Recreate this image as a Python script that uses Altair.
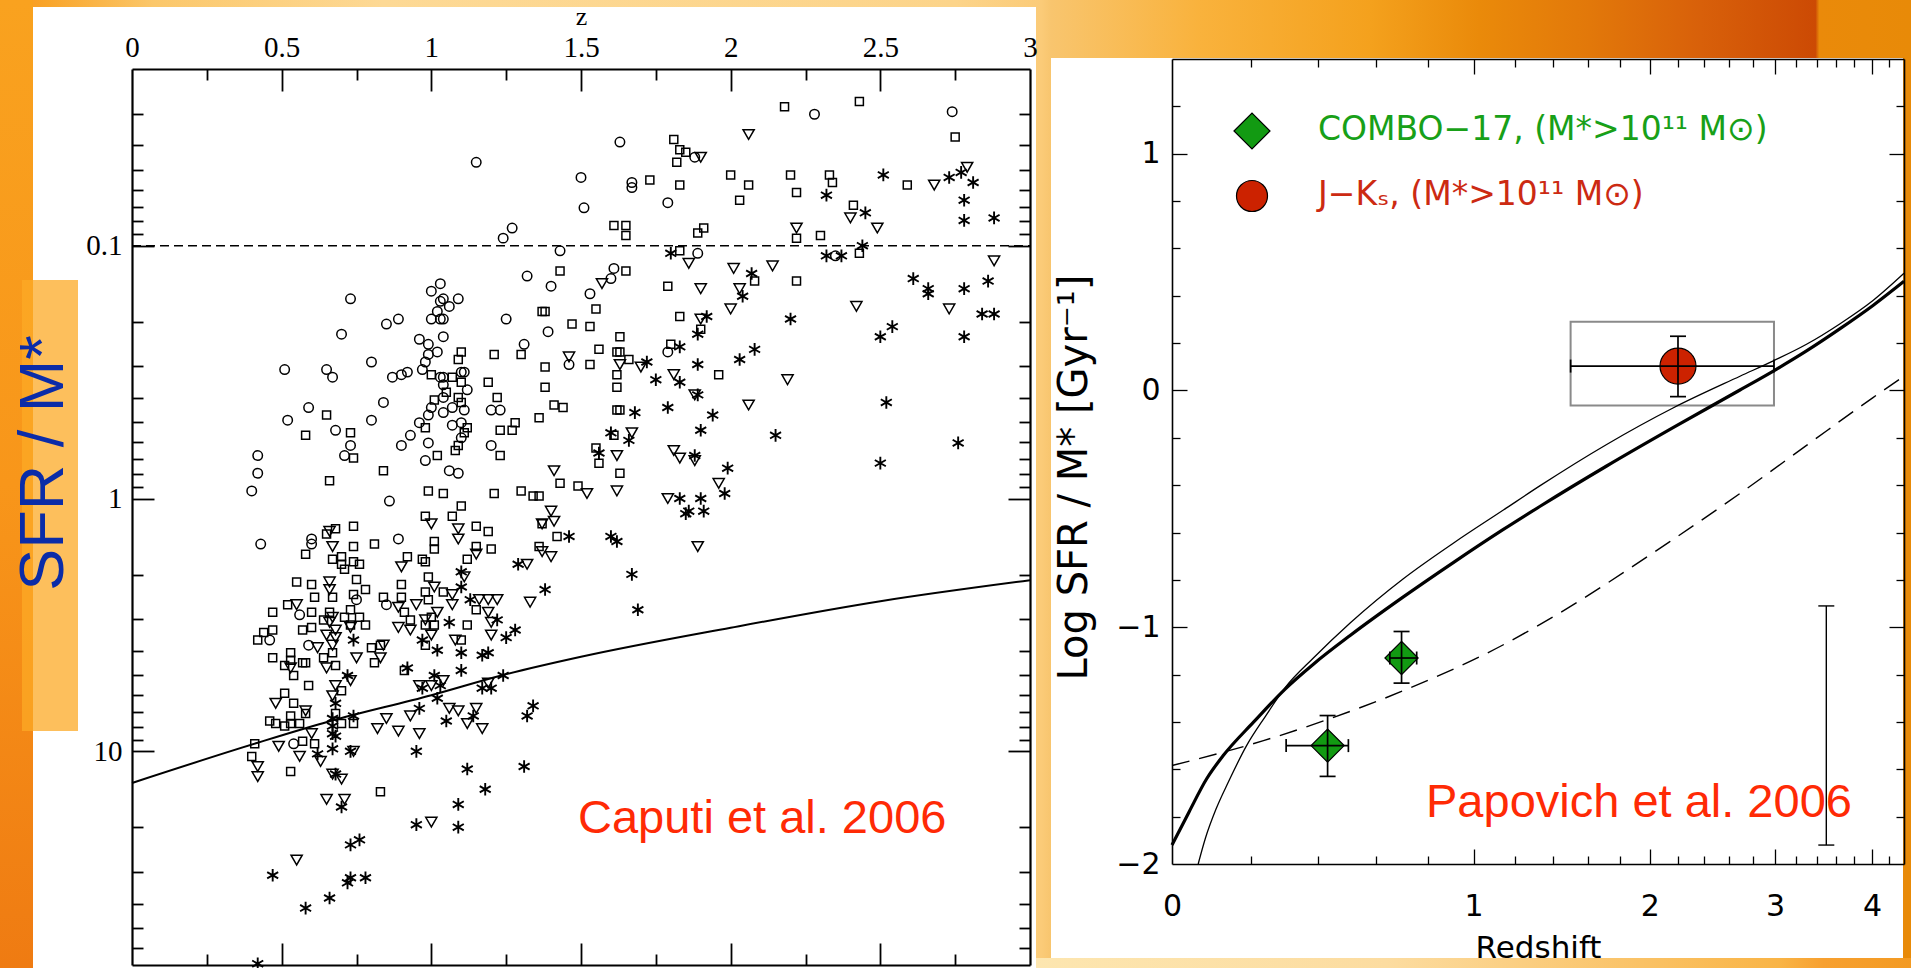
import altair as alt
import pandas as pd

W, H = 1911, 968

# ---------------- Left panel: Caputi et al. 2006 (redshift z, log10 SFR/M*) ----------------
caputi_circles = [
    (1.15, -1.33), (1.50, -1.27), (1.51, -1.15), (1.24, -1.03), (1.27, -1.07), (1.43, -0.98), (1.32, -0.88),
    (1.40, -0.84), (1.53, -0.81), (1.03, -0.85), (1.00, -0.82), (1.04, -0.79), (1.09, -0.79), (1.03, -0.78),
    (1.06, -0.76), (1.02, -0.74), (1.00, -0.71), (1.03, -0.71), (1.04, -0.71), (0.73, -0.79), (0.85, -0.69),
    (0.89, -0.71), (0.70, -0.65), (1.25, -0.71), (1.39, -0.66), (1.31, -0.61), (1.04, -0.64), (0.96, -0.63),
    (0.99, -0.61), (1.02, -0.58), (0.99, -0.57), (0.98, -0.54), (0.80, -0.54), (0.51, -0.51), (0.65, -0.51),
    (0.67, -0.48), (0.87, -0.48), (0.90, -0.49), (0.92, -0.50), (0.97, -0.51), (1.03, -0.48), (1.04, -0.48),
    (1.11, -0.50), (1.10, -0.50), (1.04, -0.45), (1.12, -0.43), (1.46, -0.53), (0.59, -0.36), (0.52, -0.31),
    (0.84, -0.38), (0.80, -0.31), (1.00, -0.36), (0.99, -0.33), (1.04, -0.34), (1.07, -0.36), (1.04, -0.40),
    (1.11, -0.35), (1.20, -0.35), (1.23, -0.35), (0.68, -0.27), (0.73, -0.21), (0.71, -0.17), (0.96, -0.30),
    (0.93, -0.25), (0.90, -0.21), (0.99, -0.22), (0.98, -0.15), (1.07, -0.29), (1.10, -0.30), (1.10, -0.24),
    (1.20, -0.21), (1.06, -0.11), (1.09, -0.10), (0.42, -0.17), (0.42, -0.10), (0.40, -0.03), (0.86, 0.01),
    (2.28, -1.52), (2.74, -1.53), (1.63, -1.41), (1.88, -1.35), (1.67, -1.25), (1.67, -1.23), (1.79, -1.17),
    (1.89, -0.97), (1.61, -0.91), (1.60, -0.87), (1.79, -0.58), (2.35, -0.96),
    (0.43, 0.18), (0.60, 0.16), (0.60, 0.18), (0.89, 0.16), (0.75, 0.40), (0.56, 0.46), (0.85, 0.42),
    (0.46, 0.56), (0.59, 0.58), (0.54, 0.97),
]
caputi_squares = [
    (1.43, -0.90), (1.37, -0.74), (1.38, -0.74), (1.47, -0.69), (1.53, -0.68), (1.10, -0.58), (1.09, -0.55),
    (1.21, -0.57), (1.30, -0.57), (1.38, -0.52), (1.53, -0.53), (1.00, -0.49), (1.07, -0.48), (1.10, -0.46),
    (1.19, -0.46), (1.38, -0.44), (1.05, -0.42), (1.01, -0.39), (1.09, -0.40), (1.10, -0.38), (1.22, -0.40),
    (1.41, -0.37), (1.44, -0.36), (1.36, -0.32), (0.65, -0.33), (0.58, -0.25), (0.73, -0.26), (0.74, -0.16),
    (0.66, -0.07), (0.84, -0.11), (0.98, -0.28), (1.12, -0.28), (1.11, -0.26), (1.28, -0.30), (1.23, -0.27),
    (1.27, -0.27), (1.09, -0.21), (1.08, -0.19), (1.02, -0.17), (1.23, -0.17), (0.99, -0.03), (1.04, -0.02),
    (1.10, 0.03), (1.21, -0.02), (1.30, -0.03), (1.34, -0.01), (1.36, -0.01), (1.43, -0.06), (1.49, -0.05),
    (0.98, 0.07), (1.07, 0.07),
    (2.18, -1.55), (2.43, -1.57), (2.75, -1.43), (1.81, -1.42), (1.83, -1.38), (1.85, -1.37), (1.82, -1.33),
    (1.73, -1.26), (1.83, -1.24), (2.00, -1.28), (2.06, -1.24), (2.03, -1.18), (2.20, -1.28), (2.33, -1.28),
    (2.34, -1.25), (2.22, -1.21), (2.41, -1.16), (2.59, -1.24), (1.61, -1.08), (1.65, -1.08), (1.65, -1.04),
    (1.91, -1.07), (1.89, -1.05), (2.22, -1.03), (2.30, -1.04), (1.83, -0.98), (2.43, -0.97), (1.65, -0.90),
    (1.79, -0.84), (2.08, -0.86), (2.22, -0.86), (1.55, -0.75), (1.83, -0.72), (1.63, -0.64), (1.90, -0.67),
    (1.56, -0.59), (1.62, -0.58), (1.63, -0.58), (1.66, -0.55), (1.80, -0.61), (1.62, -0.49), (1.62, -0.44),
    (1.96, -0.49), (1.62, -0.35), (1.63, -0.35), (1.61, -0.25), (1.55, -0.20), (1.56, -0.14), (1.63, -0.10),
    (0.74, 0.11), (0.68, 0.12), (0.65, 0.14), (0.74, 0.19), (0.81, 0.18), (0.58, 0.22), (1.01, 0.17),
    (1.01, 0.20), (1.15, 0.11), (1.19, 0.13), (1.20, 0.20), (1.15, 0.19), (1.12, 0.24), (1.36, 0.19),
    (1.42, 0.15), (1.37, 0.10), (0.67, 0.24), (0.70, 0.23), (0.70, 0.26), (0.71, 0.28), (0.74, 0.25),
    (0.76, 0.26), (0.92, 0.23), (0.97, 0.24), (0.98, 0.25), (0.55, 0.33), (0.60, 0.34), (0.75, 0.32),
    (0.78, 0.36), (0.90, 0.34), (0.99, 0.31), (0.61, 0.39), (0.67, 0.39), (0.74, 0.38), (0.84, 0.39),
    (0.90, 0.39), (0.99, 0.40), (0.98, 0.37), (1.04, 0.37), (0.47, 0.45), (0.52, 0.42), (0.60, 0.45),
    (0.66, 0.45), (0.73, 0.44), (0.76, 0.47), (0.71, 0.47), (0.64, 0.48), (0.91, 0.45), (0.93, 0.48),
    (1.00, 0.47), (1.15, 0.44), (0.44, 0.53), (0.47, 0.52), (0.42, 0.56), (0.57, 0.52), (0.60, 0.51),
    (0.73, 0.50), (0.78, 0.50), (0.98, 0.50), (1.01, 0.50), (1.12, 0.50), (0.47, 0.63), (0.53, 0.61),
    (0.53, 0.64), (0.51, 0.66), (0.54, 0.70), (0.57, 0.65), (0.58, 0.65), (0.64, 0.63), (0.67, 0.61),
    (0.68, 0.66), (0.80, 0.59), (0.83, 0.58), (0.81, 0.65), (0.98, 0.58), (1.10, 0.56), (0.91, 0.68),
    (0.59, 0.74), (0.70, 0.76), (0.51, 0.77), (0.54, 0.81), (0.46, 0.88), (0.48, 0.89), (0.51, 0.90),
    (0.53, 0.89), (0.53, 0.86), (0.56, 0.89), (0.58, 0.85), (0.68, 0.85), (0.70, 0.89), (0.74, 0.89),
    (0.41, 0.97), (0.57, 0.96), (0.61, 0.97), (0.40, 1.02), (0.53, 1.08), (0.83, 1.16),
]
caputi_triangles = [
    (1.46, -0.56), (1.41, -0.11), (1.52, -0.02), (1.40, 0.05),
    (2.06, -1.44), (1.90, -1.35), (2.79, -1.31), (2.68, -1.24), (2.40, -1.11), (2.49, -1.07), (2.22, -1.07),
    (1.86, -0.93), (2.01, -0.91), (2.14, -0.92), (2.03, -0.83), (1.90, -0.83), (2.00, -0.75), (1.57, -0.85),
    (2.42, -0.76), (2.73, -0.75), (2.88, -0.94), (1.90, -0.71), (1.63, -0.53), (1.70, -0.52), (1.81, -0.49),
    (2.19, -0.47), (1.88, -0.41), (2.06, -0.37), (1.67, -0.26), (1.62, -0.17), (1.81, -0.19), (1.83, -0.16),
    (1.88, -0.15), (1.62, -0.03), (1.79, 0.00), (1.96, -0.06), (1.89, 0.19),
    (0.66, 0.13), (0.67, 0.19), (1.00, 0.10), (1.09, 0.12), (1.09, 0.16), (1.37, 0.10), (1.41, 0.09),
    (1.15, 0.22), (1.37, 0.21), (1.40, 0.23), (1.32, 0.26), (0.90, 0.27), (1.11, 0.31), (0.66, 0.33),
    (0.66, 0.36), (1.01, 0.35), (1.07, 0.38), (1.07, 0.42), (0.95, 0.42), (0.89, 0.43), (1.02, 0.45),
    (0.55, 0.42), (1.16, 0.40), (1.19, 0.40), (1.22, 0.40), (1.19, 0.45), (1.20, 0.49), (1.20, 0.54),
    (1.33, 0.41), (0.67, 0.47), (0.66, 0.49), (0.68, 0.52), (0.65, 0.54), (0.68, 0.55), (0.67, 0.58),
    (0.73, 0.51), (0.89, 0.51), (0.93, 0.52), (0.98, 0.48), (1.00, 0.54), (0.84, 0.58), (1.08, 0.56),
    (0.62, 0.59), (0.75, 0.63), (0.83, 0.63), (0.65, 0.67), (0.53, 0.67), (0.73, 0.72), (0.68, 0.74),
    (0.67, 0.78), (0.48, 0.81), (0.58, 0.84), (0.96, 0.74), (1.00, 0.74), (1.04, 0.72), (1.19, 0.73),
    (1.06, 0.83), (1.09, 0.84), (1.15, 0.83), (0.93, 0.86), (0.85, 0.87), (0.82, 0.91), (0.89, 0.92),
    (0.96, 0.93), (1.12, 0.89), (1.17, 0.91), (0.60, 0.93), (0.49, 0.98), (0.56, 1.02), (0.63, 1.04),
    (0.42, 1.06), (0.42, 1.10), (0.67, 1.09), (0.70, 1.11), (0.65, 1.19), (0.71, 1.19), (1.00, 1.28),
    (0.55, 1.43), (0.74, 1.00),
]
caputi_asterisks = [
    (2.51, -1.28), (2.73, -1.27), (2.77, -1.29), (2.81, -1.25), (2.32, -1.20), (2.78, -1.18), (2.45, -1.13),
    (2.78, -1.10), (2.88, -1.11), (1.80, -0.97), (2.32, -0.96), (2.37, -0.96), (2.44, -1.00), (2.07, -0.89),
    (2.04, -0.80), (2.61, -0.87), (2.66, -0.83), (2.66, -0.81), (2.78, -0.83), (2.86, -0.86), (2.84, -0.73),
    (2.88, -0.73), (1.92, -0.72), (1.89, -0.65), (2.20, -0.71), (2.50, -0.64), (2.54, -0.68), (2.78, -0.64),
    (1.83, -0.60), (1.72, -0.54), (1.75, -0.47), (1.83, -0.46), (1.89, -0.53), (1.89, -0.41), (2.03, -0.55),
    (2.08, -0.59), (1.68, -0.34), (1.79, -0.36), (1.94, -0.33), (1.90, -0.27), (1.60, -0.26), (1.66, -0.23),
    (1.56, -0.18), (2.15, -0.25), (2.52, -0.38), (2.76, -0.22), (2.50, -0.14), (1.88, -0.17), (1.99, -0.12),
    (1.98, -0.02), (1.83, 0.00), (1.90, 0.00), (1.86, 0.05), (1.91, 0.05), (1.85, 0.06),
    (1.60, 0.15), (1.62, 0.17), (1.67, 0.30), (1.69, 0.44),
    (1.46, 0.15), (1.29, 0.26), (1.38, 0.36), (1.10, 0.29), (1.10, 0.35), (1.13, 0.40), (1.06, 0.49),
    (1.22, 0.48), (1.25, 0.55), (1.28, 0.52), (0.97, 0.56), (0.74, 0.56), (1.02, 0.60), (1.10, 0.61),
    (1.17, 0.62), (1.19, 0.61), (0.92, 0.67), (1.10, 0.68), (0.72, 0.70), (1.01, 0.70), (1.03, 0.74),
    (1.17, 0.75), (1.20, 0.75), (1.24, 0.70), (0.97, 0.75), (1.02, 0.79), (0.68, 0.81), (0.74, 0.86),
    (0.96, 0.83), (1.14, 0.86), (1.05, 0.88), (1.34, 0.82), (1.32, 0.86), (0.67, 0.87), (0.67, 0.90),
    (0.67, 0.93), (0.68, 0.94), (0.67, 0.99), (0.73, 1.00), (0.62, 1.01), (0.95, 1.00), (0.68, 1.09),
    (0.70, 1.22), (1.12, 1.07), (1.31, 1.06), (1.18, 1.15), (1.09, 1.21), (0.95, 1.29), (1.09, 1.30),
    (0.73, 1.37), (0.76, 1.35), (0.47, 1.49), (0.73, 1.50), (0.72, 1.52), (0.78, 1.50), (0.66, 1.58),
    (0.58, 1.62), (0.42, 1.84),
]
caputi_curve_z = [0.0, 0.42, 0.66, 1.0, 1.24, 1.5, 2.0, 2.5, 3.0]
caputi_curve_logy = [1.125, 0.966, 0.881, 0.778, 0.698, 0.626, 0.511, 0.406, 0.323]
caputi_cut_z = [0.0, 3.0]
caputi_cut_level = [0.1, 0.1]
caputi_x_labels = [0, 0.5, 1, 1.5, 2, 2.5, 3]
caputi_y_labels = [0.1, 1, 10]

# ---------------- Right panel: Papovich et al. 2006 (redshift, log SFR/M* [Gyr^-1]) ----------------
combo_z = [0.43, 0.695]
combo_z_lo = [0.30, 0.65]
combo_z_hi = [0.50, 0.755]
combo_y = [-1.50, -1.13]
combo_y_lo = [-1.63, -1.236]
combo_y_hi = [-1.373, -1.018]

jk_z = [2.20]
jk_z_lo = [1.50]
jk_z_hi = [2.99]
jk_y = [0.103]
jk_y_lo = [-0.026]
jk_y_hi = [0.229]
jk_box_z = [1.50, 2.99]
jk_box_y = [-0.064, 0.290]

typical_err_z = [3.5]
typical_err_lo = [-1.92]
typical_err_hi = [-0.91]

thick_z = [0.0, 0.04, 0.083, 0.125, 0.206, 0.297, 0.384, 0.506, 0.702, 0.909, 1.142, 1.331, 1.716, 2.167,
           2.69, 2.984, 3.30, 3.645, 4.01, 4.38]
thick_y = [-1.92, -1.78, -1.64, -1.542, -1.401, -1.261, -1.156, -1.035, -0.872, -0.727, -0.587, -0.489,
           -0.319, -0.156, 0.002, 0.082, 0.167, 0.261, 0.359, 0.461]
thin_z = [0.062, 0.08, 0.106, 0.138, 0.187, 0.24, 0.297, 0.384, 0.506, 0.702, 0.909, 1.142, 1.331, 1.716,
          2.167, 2.69, 2.984, 3.30, 3.645, 4.01, 4.38]
thin_y = [-2.0, -1.89, -1.77, -1.655, -1.50, -1.375, -1.255, -1.130, -0.982, -0.795, -0.645, -0.505, -0.402,
          -0.228, -0.073, 0.060, 0.125, 0.195, 0.282, 0.380, 0.495]
dash_z = [0.0, 0.234, 0.427, 0.702, 1.142, 1.331, 2.167, 2.69, 3.30, 4.01, 4.38]
dash_y = [-1.584, -1.479, -1.391, -1.268, -1.074, -0.988, -0.628, -0.435, -0.232, -0.030, 0.060]

papovich_x_labels = [0, 1, 2, 3, 4]
papovich_y_labels = [-2, -1, 0, 1]

# ---------------- tables ----------------
one = pd.DataFrame({"k": [0]})


def pts_df(pts):
    return pd.DataFrame({"z": [p[0] for p in pts], "logy": [p[1] for p in pts]})


curve_df = pd.DataFrame({"z": caputi_curve_z, "logy": caputi_curve_logy})
cut_df = pd.DataFrame({"z": caputi_cut_z, "v": caputi_cut_level})

err_df = pd.DataFrame({
    "zp1": [1 + z for z in combo_z + jk_z],
    "zlo1": [1 + z for z in combo_z_lo + jk_z_lo],
    "zhi1": [1 + z for z in combo_z_hi + jk_z_hi],
    "y": combo_y + jk_y,
    "ylo": combo_y_lo + jk_y_lo,
    "yhi": combo_y_hi + jk_y_hi,
})
combo_df = err_df.iloc[:2]
jk_df = err_df.iloc[2:]
box_df = pd.DataFrame({"zlo1": [1 + jk_box_z[0]], "zhi1": [1 + jk_box_z[1]], "ylo": [jk_box_y[0]], "yhi": [jk_box_y[1]]})
typ_df = pd.DataFrame({"zp1": [1 + z for z in typical_err_z], "ylo": typical_err_lo, "yhi": typical_err_hi})
thick_df = pd.DataFrame({"zp1": [1 + z for z in thick_z], "y": thick_y})
thin_df = pd.DataFrame({"zp1": [1 + z for z in thin_z], "y": thin_y})
dash_df = pd.DataFrame({"zp1": [1 + z for z in dash_z], "y": dash_y})

# ---------------- scales ----------------
L_X = alt.Scale(domain=[0, 3], range=[132, 1030], nice=False, zero=False)
L_Y = alt.Scale(type="log", domain=[0.02, 70], range=[69, 965], nice=False)
R_X = alt.Scale(type="log", domain=[1, 5.38], range=[1172, 1904], nice=False)
R_Y = alt.Scale(domain=[-2, 1.4], range=[864, 59], nice=False, zero=False)

SERIF = "Liberation Serif"
SANS = "DejaVu Sans"


def tick_axis(orient, offset, values, test, major, minor, tw, dw):
    return alt.Axis(orient=orient, offset=offset, values=values, labels=False, title=None, grid=False,
                    domain=True, domainColor="black", domainWidth=dw, ticks=True, tickColor="black",
                    tickWidth=tw, tickSize={"condition": {"test": test, "value": major}, "value": minor},
                    zindex=3)


LX_TEST = "abs(datum.value*2 - round(datum.value*2)) < 0.001"
LY_TEST = "abs(log(datum.value)/LN10 - round(log(datum.value)/LN10)) < 0.001"
INT_TEST = "abs(datum.value - round(datum.value)) < 0.001"

lx_ticks = [round(0.25 * i, 2) for i in range(1, 12)]
ly_ticks = [round(m * 10 ** e, 3) for e in (-2, -1, 0, 1) for m in range(1, 10) if 0.02 < m * 10 ** e < 70]
rx_ticks = [round(1 + 0.2 * i, 2) for i in range(1, 22)]
ry_ticks = [round(-2 + 0.2 * i, 2) for i in range(1, 17)]

ax_l_top_labels = alt.Axis(orient="top", offset=-69, values=caputi_x_labels, format="~g", ticks=False, domain=False,
                           grid=False, labelFont=SERIF, labelFontSize=29, labelColor="black", labelPadding=7,
                           labelFlush=False, labelOverlap=False, title="z", titleFont=SERIF, titleFontSize=26,
                           titleFontWeight="normal", titleColor="black", titleX=581, titleY=-53,
                           titleBaseline="middle", titleAlign="center", zindex=3)
ax_l_top_ticks = tick_axis("bottom", 69 - H, lx_ticks, LX_TEST, 22, 11, 1.8, 2.2)
ax_l_bottom_ticks = tick_axis("top", -965, lx_ticks, LX_TEST, 22, 11, 1.8, 2.2)
ax_l_left_labels = alt.Axis(orient="left", offset=-132, values=caputi_y_labels, format="~g", ticks=False,
                            domain=False, grid=False, labelFont=SERIF, labelFontSize=29, labelColor="black",
                            labelPadding=10, labelFlush=False, labelOverlap=False, title=None, zindex=3)
ax_l_left_ticks = tick_axis("right", 132 - W, ly_ticks, LY_TEST, 22, 11, 1.8, 2.2)
ax_l_right_ticks = tick_axis("left", -1030, ly_ticks, LY_TEST, 22, 11, 1.8, 2.2)

ax_r_bottom_labels = alt.Axis(orient="bottom", offset=864 - H, values=[1 + z for z in papovich_x_labels],
                              labelExpr="format(datum.value - 1, 'd')", ticks=False, domain=False, grid=False,
                              labelFont=SANS, labelFontSize=30, labelColor="black", labelPadding=27,
                              labelFlush=False, labelOverlap=False, title="Redshift", titleFont=SANS,
                              titleFontSize=31, titleFontWeight="normal", titleColor="black", titleX=1538,
                              titleY=84, titleBaseline="middle", titleAlign="center", zindex=3)
ax_r_bottom_ticks = tick_axis("top", -864, rx_ticks, INT_TEST, 15, 8, 1.3, 1.6)
ax_r_top_ticks = tick_axis("bottom", 59 - H, rx_ticks, INT_TEST, 15, 8, 1.3, 1.6)
ax_r_left_labels = alt.Axis(orient="left", offset=-1172, values=papovich_y_labels, format="d", ticks=False,
                            domain=False, grid=False, labelFont=SANS, labelFontSize=30, labelColor="black",
                            labelPadding=12, labelFlush=False, labelOverlap=False,
                            title="Log SFR / M* [Gyr⁻¹]", titleFont=SANS, titleFontSize=40,
                            titleFontWeight="normal", titleColor="black", titleX=-98, titleY=477,
                            titleAngle=270, titleBaseline="middle", titleAlign="center", zindex=3)
ax_r_left_ticks = tick_axis("right", 1172 - W, ry_ticks, INT_TEST, 15, 8, 1.3, 1.6)
ax_r_right_ticks = tick_axis("left", -1904, ry_ticks, INT_TEST, 15, 8, 1.3, 1.6)


def LXe(f, axis=None):
    return alt.X(f"{f}:Q", scale=L_X, axis=axis)


def LYe(f, axis=None):
    return alt.Y(f"{f}:Q", scale=L_Y, axis=axis)


def RXe(f, axis=None):
    return alt.X(f"{f}:Q", scale=R_X, axis=axis)


def RYe(f, axis=None):
    return alt.Y(f"{f}:Q", scale=R_Y, axis=axis)


def deco_rect(x0, x1, y0, y1, **mk):
    return alt.Chart(one).mark_rect(**mk).encode(x=alt.value(x0), x2=alt.value(x1), y=alt.value(y0), y2=alt.value(y1))


def note(text, x, y, **mk):
    return alt.Chart(one).mark_text(text=text, **mk).encode(x=alt.value(x), y=alt.value(y))


def grad(stops, vertical=False):
    return alt.LinearGradient(gradient="linear",
                              stops=[alt.GradientStop(color=c, offset=o) for o, c in stops],
                              x1=0, x2=0 if vertical else 1, y1=0, y2=1 if vertical else 0)


layers = []

# ---- slide background ----
bg_stops = [
    (0.0, "#f7941d"), (0.025, "#f9a52a"), (0.08, "#fbc76a"), (0.2, "#fdd995"), (0.5, "#fcd48a"),
    (0.545, "#fbcb78"), (0.55, "#f8c56e"), (0.628, "#f9b23c"), (0.717, "#f4a11d"), (0.774, "#ea8a0a"),
    (0.832, "#e2780a"), (0.89, "#d8600a"), (0.950, "#cc4a04"), (0.952, "#ea8a0a"), (1.0, "#e88a08")]
layers.append(deco_rect(0, W, 0, H, color=grad(bg_stops)))
bottom_stops = [(0.0, "#fde6b0"), (0.4, "#fcdca0"), (0.85, "#f9b446"), (0.9, "#f7a030"), (1.0, "#f39a22")]
layers.append(deco_rect(1036, W, 958, H, color=grad(bottom_stops)))
left_stops = [(0.0, "#f9a21f"), (0.5, "#f8961a"), (1.0, "#ef7b12")]
layers.append(deco_rect(0, 33, 0, H, color=grad(left_stops, vertical=True)))
# ---- white panels ----
layers.append(deco_rect(33, 1036, 7, H, color="white"))
layers.append(deco_rect(1051, 1903, 58, 958, color="white"))
# ---- side label ----
layers.append(deco_rect(22, 78, 280, 731, color="#fcaa26", opacity=0.75))
layers.append(note("SFR / M*", 63, 463, angle=270, align="center", baseline="alphabetic",
                   font="Liberation Sans", fontSize=63, color="#0b2ca8"))

# ---- left panel: Caputi et al. 2006 ----
layers.append(alt.Chart(cut_df).mark_line(color="black", strokeWidth=1.6, strokeDash=[9, 5]).encode(
    x=LXe("z", ax_l_bottom_ticks), y=LYe("v", ax_l_right_ticks)))
layers.append(alt.Chart(curve_df).transform_calculate(v="pow(10, datum.logy)").mark_line(
    color="black", strokeWidth=2, interpolate="monotone").encode(
    x=LXe("z", ax_l_top_ticks), y=LYe("v", ax_l_left_ticks)))
ASTERISK = "M0,-1L0,1M-0.87,-0.5L0.87,0.5M-0.87,0.5L0.87,-0.5"
symbol_sets = [
    (caputi_squares, "square", 64, 1.5),
    (caputi_triangles, "triangle-down", 125, 1.5),
    (caputi_asterisks, ASTERISK, 160, 1.9),
]
layers.append(alt.Chart(pts_df(caputi_circles)).transform_calculate(v="pow(10, datum.logy)").mark_point(
    shape="circle", size=90, filled=False, color="black", strokeWidth=1.5, opacity=1).encode(
    x=LXe("z", ax_l_top_labels), y=LYe("v", ax_l_left_labels)))
for pts, shape, size, sw in symbol_sets:
    layers.append(alt.Chart(pts_df(pts)).transform_calculate(v="pow(10, datum.logy)").mark_point(
        shape=shape, size=size, filled=False, color="black", strokeWidth=sw, opacity=1).encode(
        x=LXe("z"), y=LYe("v")))
layers.append(note("Caputi et al. 2006", 578, 833, align="left", baseline="alphabetic",
                   font="Liberation Sans", fontSize=47, color="#ff2a05"))

# ---- right panel: Papovich et al. 2006 ----
layers.append(alt.Chart(box_df).mark_rect(fillOpacity=0, stroke="#8a8a8a", strokeWidth=2).encode(
    x=RXe("zlo1"), x2=alt.X2("zhi1"), y=RYe("ylo"), y2=alt.Y2("yhi")))
layers.append(alt.Chart(dash_df).mark_line(color="black", strokeWidth=1.4, strokeDash=[18, 10],
                                           interpolate="monotone").encode(
    x=RXe("zp1", ax_r_top_ticks), y=RYe("y", ax_r_right_ticks)))
layers.append(alt.Chart(thin_df).mark_line(color="black", strokeWidth=1.3, interpolate="monotone").encode(
    x=RXe("zp1", ax_r_bottom_ticks), y=RYe("y", ax_r_left_ticks)))
layers.append(alt.Chart(thick_df).mark_line(color="black", strokeWidth=3.2, interpolate="monotone").encode(
    x=RXe("zp1", ax_r_bottom_labels), y=RYe("y", ax_r_left_labels)))
# symbols
layers.append(alt.Chart(combo_df).mark_point(shape="diamond", size=1100, filled=True, fill="#129a12",
                                             stroke="black", strokeWidth=1.2, opacity=1).encode(
    x=RXe("zp1"), y=RYe("y")))
layers.append(alt.Chart(jk_df).mark_point(shape="circle", size=1296, filled=True, fill="#cc2200",
                                          stroke="black", strokeWidth=1.2, opacity=1).encode(
    x=RXe("zp1"), y=RYe("y")))
# error bars with caps (drawn over the symbols)
layers.append(alt.Chart(err_df).mark_rule(color="black", strokeWidth=1.7).encode(
    x=RXe("zlo1"), x2=alt.X2("zhi1"), y=RYe("y")))
layers.append(alt.Chart(err_df).mark_rule(color="black", strokeWidth=1.7).encode(
    x=RXe("zp1"), y=RYe("ylo"), y2=alt.Y2("yhi")))
for f in ["zlo1", "zhi1"]:
    layers.append(alt.Chart(err_df).mark_tick(orient="vertical", size=13, thickness=1.7, color="black",
                                              opacity=1).encode(x=RXe(f), y=RYe("y")))
for f in ["ylo", "yhi"]:
    layers.append(alt.Chart(err_df).mark_tick(orient="horizontal", size=16, thickness=1.7, color="black",
                                              opacity=1).encode(x=RXe("zp1"), y=RYe(f)))
# typical uncertainty bar
layers.append(alt.Chart(typ_df).mark_rule(color="black", strokeWidth=1.4).encode(
    x=RXe("zp1"), y=RYe("ylo"), y2=alt.Y2("yhi")))
for f in ["ylo", "yhi"]:
    layers.append(alt.Chart(typ_df).mark_tick(orient="horizontal", size=16, thickness=1.4, color="black",
                                              opacity=1).encode(x=RXe("zp1"), y=RYe(f)))
# legend
layers.append(alt.Chart(one).mark_point(shape="diamond", size=1296, filled=True, fill="#129a12",
                                        stroke="black", strokeWidth=1.2, opacity=1).encode(
    x=alt.value(1252), y=alt.value(131)))
layers.append(alt.Chart(one).mark_point(shape="circle", size=961, filled=True, fill="#cc2200",
                                        stroke="black", strokeWidth=1.2, opacity=1).encode(
    x=alt.value(1252), y=alt.value(196)))
layers.append(note("COMBO−17, (M*>10¹¹ M⊙)", 1318, 140, align="left", baseline="alphabetic",
                   font=SANS, fontSize=33, color="#18a018"))
layers.append(note("J−Kₛ, (M*>10¹¹ M⊙)", 1318, 205, align="left", baseline="alphabetic",
                   font=SANS, fontSize=33, color="#cc2a12"))
layers.append(note("Papovich et al. 2006", 1426, 817, align="left", baseline="alphabetic",
                   font="Liberation Sans", fontSize=47, color="#ff2a05"))

chart = alt.layer(*layers).resolve_scale(x="independent", y="independent").resolve_axis(
    x="independent", y="independent").properties(
    width=W, height=H, autosize=alt.AutoSizeParams(type="none"), padding=0, background="#f7941d"
).configure_view(strokeWidth=0)

chart.save("out.html", embed_options={"renderer": "svg", "actions": False})
